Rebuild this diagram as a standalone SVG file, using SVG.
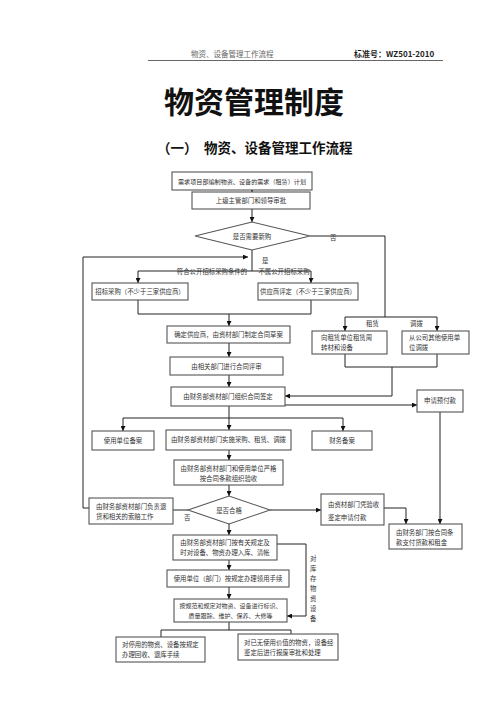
<svg xmlns="http://www.w3.org/2000/svg" width="500" height="707" viewBox="0 0 500 707">
<style>
.box{fill:#fff;stroke:#555;stroke-width:1.1}
.t{font-family:"Noto Sans CJK SC","Noto Sans CJK JP",sans-serif;font-size:6.4px;fill:#333}
.m{text-anchor:middle}
.c{stroke:#222;stroke-width:1;fill:none}
.a{marker-end:url(#ar)}
</style>
<defs>
<marker id="ar" markerUnits="userSpaceOnUse" markerWidth="5" markerHeight="5" refX="5" refY="2.5" orient="auto">
<path d="M0,0 L5,2.5 L0,5 z" fill="#111"/>
</marker>
</defs>
<rect width="500" height="707" fill="#fff"/>
<g id="header">
<text x="191" y="57" style="font-family:'Noto Sans CJK SC',sans-serif;font-size:7.5px;fill:#666">物资、设备管理工作流程</text>
<text x="354" y="57" style="font-family:'Noto Sans CJK SC',sans-serif;font-size:8px;font-weight:bold;fill:#222">标准号：WZ501-2010</text>
<line x1="148" y1="60.5" x2="443" y2="60.5" stroke="#666" stroke-width="1"/>
<text x="254" y="113" text-anchor="middle" style="font-family:'Noto Sans CJK SC',sans-serif;font-size:30px;font-weight:bold;fill:#111">物资管理制度</text>
<text x="157" y="153" style="font-family:'Noto Sans CJK SC',sans-serif;font-size:13.5px;font-weight:bold;fill:#111">（一）</text>
<text x="204" y="153" style="font-family:'Noto Sans CJK SC',sans-serif;font-size:13.5px;font-weight:bold;fill:#111">物资、设备管理工作流程</text>
</g>
<g id="connectors">
<path class="c a" d="M252,184 V192"/>
<path class="c a" d="M252,209 V222"/>
<path class="c" d="M310,236 H385 V317"/>
<path class="c" d="M345,317 H437"/>
<path class="c a" d="M345,317 V331"/>
<path class="c a" d="M437,317 V331"/>
<path class="c" d="M252,250 V271"/>
<path class="c" d="M138,271 H311"/>
<path class="c a" d="M138,271 V283"/>
<path class="c a" d="M311,271 V283"/>
<path class="c" d="M138,300 V314 H311 V300"/>
<path class="c a" d="M229,314 V326"/>
<path class="c a" d="M229,343 V357"/>
<path class="c a" d="M229,375 V387"/>
<path class="c" d="M345,354 V367 H437 V354"/>
<path class="c a" d="M392,367 V396 H285"/>
<path class="c a" d="M285,405 H417"/>
<path class="c a" d="M440,412 V524"/>
<path class="c" d="M229,406 V418"/>
<path class="c" d="M123,418 H343"/>
<path class="c a" d="M123,418 V431"/>
<path class="c a" d="M229,418 V430"/>
<path class="c a" d="M343,418 V431"/>
<path class="c a" d="M229,450 V460"/>
<path class="c a" d="M229,485 V496"/>
<path class="c a" d="M270,510 H321"/>
<path class="c a" d="M384,508 H406 V524"/>
<path class="c" d="M188,510 H173"/>
<path class="c a" d="M89,508 H83 V257 H248"/>
<path class="c a" d="M229,524 V535"/>
<path class="c a" d="M277,544 H306 V616 H287"/>
<path class="c a" d="M229,560 V570"/>
<path class="c a" d="M229,587 V599"/>
<path class="c" d="M229,622 V630"/>
<path class="c" d="M161,630 H291"/>
<path class="c" d="M161,630 V637"/>
<path class="c" d="M291,630 V634"/>
<text class="t" x="330" y="240">否</text>
<text class="t" x="262" y="263">是</text>
<text class="t m" x="212" y="274">符合公开招标采购条件的</text>
<text class="t m" x="284" y="274">不属公开招标采购</text>
<text class="t" x="366" y="326">租赁</text>
<text class="t" x="410" y="326">调拨</text>
<text class="t" x="184" y="520">否</text>
<text class="t" x="310"><tspan x="310" y="561">对</tspan><tspan x="310" y="571">库</tspan><tspan x="310" y="581">存</tspan><tspan x="310" y="591">物</tspan><tspan x="310" y="601">资</tspan><tspan x="310" y="611">设</tspan><tspan x="310" y="621">备</tspan></text>
</g>
<g id="n1"><rect class="box" x="172" y="172" width="140" height="18"/><text class="t m" x="242" y="183.5" style="font-size:6.1px">需求项目部编制物资、设备的需求（租赁）计划</text></g>
<g id="n2"><rect class="box" x="192" y="192" width="118" height="17"/><text class="t m" x="251" y="203">上级主管部门和领导审批</text></g>
<g id="d1"><polygon class="box" points="195,236 252,222 310,236 252,250"/><text class="t m" x="252" y="238.5">是否需要新购</text></g>
<g id="n3"><rect class="box" x="92" y="283" width="96" height="17"/><text class="t m" x="140" y="294">招标采购（不少于三家供应商）</text></g>
<g id="n4"><rect class="box" x="258" y="283" width="100" height="17"/><text class="t m" x="308" y="294">供应商评定（不少于三家供应商）</text></g>
<g id="n5"><rect class="box" x="167" y="326" width="123" height="17"/><text class="t m" x="228.5" y="337">确定供应商，由资材部门制定合同草案</text></g>
<g id="n6"><rect class="box" x="170" y="357" width="113" height="18"/><text class="t m" x="226.5" y="368.5">由相关部门进行合同评审</text></g>
<g id="n7"><rect class="box" x="171" y="387" width="114" height="19"/><text class="t m" x="228" y="399">由财务部资材部门组织合同签定</text></g>
<g id="n8"><rect class="box" x="312" y="331" width="75" height="23"/><text class="t" x="321" y="340">向租赁单位租赁周</text><text class="t" x="321" y="350">转材和设备</text></g>
<g id="n9"><rect class="box" x="402" y="331" width="67" height="23"/><text class="t" x="409" y="340">从公司其他使用单</text><text class="t" x="409" y="350">位调拨</text></g>
<g id="n10"><rect class="box" x="417" y="390" width="46" height="22"/><text class="t m" x="440" y="403">申请预付款</text></g>
<g id="n11"><rect class="box" x="92" y="431" width="62" height="19"/><text class="t m" x="123" y="442.5">使用单位备案</text></g>
<g id="n12"><rect class="box" x="166" y="430" width="125" height="20"/><text class="t m" x="228.5" y="442">由财务部资材部门实施采购、租赁、调拨</text></g>
<g id="n13"><rect class="box" x="312" y="431" width="60" height="19"/><text class="t m" x="342" y="442.5">财务备案</text></g>
<g id="n14"><rect class="box" x="174" y="460" width="109" height="25"/><text class="t m" x="228.5" y="471">由财务部资材部门和使用单位严格</text><text class="t m" x="228.5" y="481">按合同条款组织验收</text></g>
<g id="d2"><polygon class="box" points="188,510 229,496 270,510 229,524"/><text class="t m" x="229" y="512.5">是否合格</text></g>
<g id="n15"><rect class="box" x="89" y="498" width="84" height="26"/><text class="t" x="96" y="508.5">由财务部资材部门负责退</text><text class="t" x="96" y="518.5">货和相关的索赔工作</text></g>
<g id="n16"><rect class="box" x="321" y="494" width="63" height="31"/><text class="t" x="328" y="507">由资材部门凭验收</text><text class="t" x="328" y="520">鉴定申请付款</text></g>
<g id="n17"><rect class="box" x="389" y="524" width="73" height="25"/><text class="t" x="396" y="534.5">由财务部门按合同条</text><text class="t" x="396" y="544.5">款支付货款和租金</text></g>
<g id="n18"><rect class="box" x="173" y="535" width="104" height="25"/><text class="t m" x="225" y="545">由财务部资材部门按有关规定及</text><text class="t m" x="225" y="555">时对设备、物资办理入库、清帐</text></g>
<g id="n19"><rect class="box" x="167" y="570" width="122" height="17"/><text class="t m" x="228" y="581">使用单位（部门）按规定办理领用手续</text></g>
<g id="n20"><rect class="box" x="174" y="599" width="113" height="23"/><text class="t m" x="230.5" y="608" style="font-size:6px">按规范和规定对物资、设备进行标识、</text><text class="t m" x="230.5" y="618" style="font-size:6px">质量跟踪、维护、保养、大修等</text></g>
<g id="n21"><rect class="box" x="116" y="637" width="89" height="25"/><text class="t" x="122" y="647">对停用的物资、设备按规定</text><text class="t" x="122" y="657">办理回收、退库手续</text></g>
<g id="n22"><rect class="box" x="238" y="634" width="100" height="26"/><text class="t" x="244" y="645">对已无使用价值的物资，设备经</text><text class="t" x="244" y="655">鉴定后进行报废审批和处理</text></g>
</svg>
